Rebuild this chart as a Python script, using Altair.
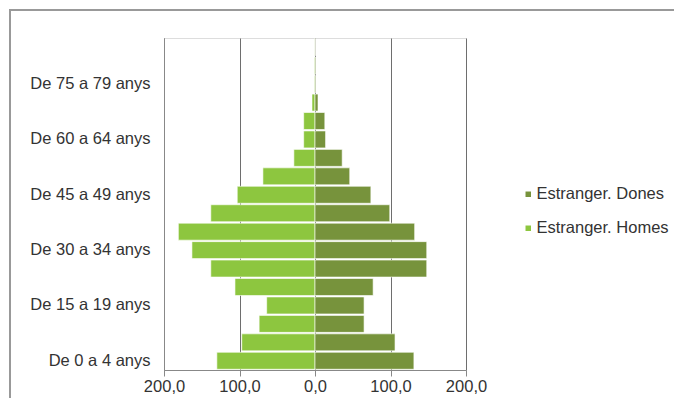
import altair as alt
import pandas as pd

ages = ["De 0 a 4 anys", "De 5 a 9 anys", "De 10 a 14 anys", "De 15 a 19 anys",
        "De 20 a 24 anys", "De 25 a 29 anys", "De 30 a 34 anys", "De 35 a 39 anys",
        "De 40 a 44 anys", "De 45 a 49 anys", "De 50 a 54 anys", "De 55 a 59 anys",
        "De 60 a 64 anys", "De 65 a 69 anys", "De 70 a 74 anys", "De 75 a 79 anys",
        "De 80 a 84 anys", "De 85 anys i més"]
homes = [130, 97, 74, 64, 106, 138, 163, 181, 138, 103, 69, 28, 15, 15, 4, 1, 1, 0.5]
dones = [131, 106, 65, 65, 77, 148, 148, 132, 99, 74, 46, 36, 14, 13, 4, 1, 1, 0.5]
shown_labels = ["De 0 a 4 anys", "De 15 a 19 anys", "De 30 a 34 anys",
                "De 45 a 49 anys", "De 60 a 64 anys", "De 75 a 79 anys"]
series = ["Estranger. Dones", "Estranger. Homes"]
colors = ["#77933C", "#8DC63F"]
x_ticks = [-200, -100, 0, 100, 200]

rows = []
for a, h, d in zip(ages, homes, dones):
    rows.append({"edat": a, "serie": series[1], "valor": -h})
    rows.append({"edat": a, "serie": series[0], "valor": d})
df = pd.DataFrame(rows)

FONT = "Liberation Sans"
FS = 16.5

bars = alt.Chart(df).mark_bar(stroke="white", strokeWidth=0.6).encode(
    y=alt.Y("edat:N", sort=list(reversed(ages)),
            scale=alt.Scale(paddingInner=0.08, paddingOuter=0.04),
            axis=alt.Axis(title=None, values=shown_labels, ticks=False,
                          domain=True, domainColor="#888888",
                          labelFont=FONT, labelFontSize=FS, labelColor="#333333",
                          labelPadding=14, grid=False)),
    x=alt.X("valor:Q", scale=alt.Scale(domain=[-200, 200], nice=False),
            axis=alt.Axis(title=None, values=x_ticks, grid=True, gridColor="#6e6e6e",
                          gridWidth=1, domainColor="#888888", tickColor="#888888",
                          tickSize=6, labelFont=FONT, labelFontSize=FS,
                          labelColor="#333333", labelPadding=2, labelFlush=False,
                          labelOverlap=False,
                          labelExpr="replace(format(abs(datum.value), '.1f'), '.', ',')")),
    color=alt.Color("serie:N", scale=alt.Scale(domain=series, range=colors),
                    legend=alt.Legend(title=None, orient="none", legendX=356, legendY=148,
                                      symbolType="square", symbolSize=30,
                                      symbolStrokeWidth=0, labelFont=FONT,
                                      labelFontSize=FS, labelColor="#333333",
                                      rowPadding=17, labelOffset=0, labelLimit=200)),
)

frame = alt.Chart(df).mark_rect(fill=None, stroke="#999999", strokeWidth=1.5).encode(
    x=alt.value(-154), x2=alt.value(560), y=alt.value(-28), y2=alt.value(420)
)

chart = alt.layer(frame, bars).properties(
    width=302, height=332,
    autosize=alt.AutoSizeParams(type="none"),
    padding={"left": 156, "top": 30, "right": 208, "bottom": 28},
).configure_view(stroke=None).configure(background="white")

chart.save("out.html", embed_options={"renderer": "svg", "actions": False})
